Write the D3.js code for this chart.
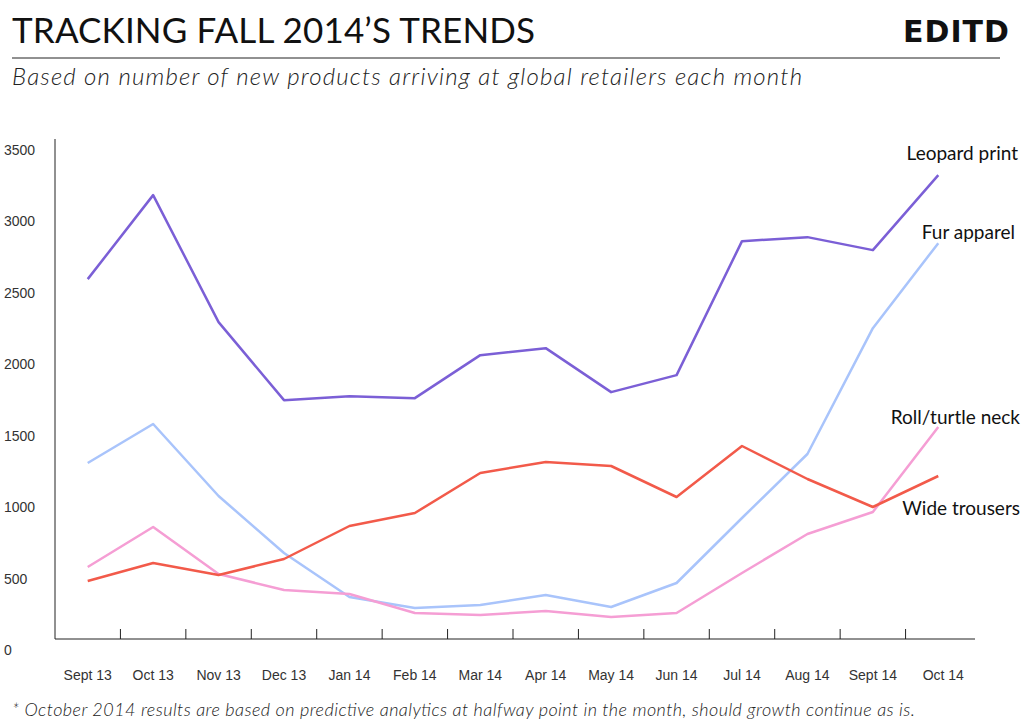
<!DOCTYPE html>
<html><head><meta charset="utf-8">
<script src="https://cdn.jsdelivr.net/npm/d3@7"></script>
<style>body{margin:0;background:#fff}svg{display:block}</style>
</head><body><svg width="1024" height="728"></svg>
<script>
const months = ["Sept 13","Oct 13","Nov 13","Dec 13","Jan 14","Feb 14","Mar 14","Apr 14","May 14","Jun 14","Jul 14","Aug 14","Sept 14","Oct 14"];
const leopard = [2519,3107,2218,1672,1700,1686,1987,2036,1728,1847,2785,2813,2722,3247];
const fur = [1232,1505,1001,602,294,217,238,308,224,392,847,1295,2176,2771];
const wide = [406,532,448,560,791,882,1162,1239,1211,994,1351,1120,924,1141];
const roll = [504,784,455,343,315,182,168,196,154,182,462,735,889,1484];
const yTicks = [0,500,1000,1500,2000,2500,3000,3500];

const series = [
  {name:"Leopard print", values:leopard, color:"#7b5fd6", lx:1018, ly:160},
  {name:"Fur apparel", values:fur, color:"#a9c4fb", lx:1015, ly:239},
  {name:"Roll/turtle neck", values:roll, color:"#f59ed4", lx:1020, ly:424},
  {name:"Wide trousers", values:wide, color:"#f25a4a", lx:1020, ly:515}
];

const svg = d3.select("svg");
const x = d3.scaleBand().domain(months).range([55, 971]);
const y = d3.scaleLinear().domain([0, 3500]).range([639, 139]);

svg.append("text").attr("x", 12).attr("y", 43).attr("font-family", "Lato").attr("font-weight", 400)
  .attr("font-size", 35).attr("fill", "#111").attr("textLength", 523).text("TRACKING FALL 2014’S TRENDS");
svg.append("text").attr("x", 1010).attr("y", 42).attr("text-anchor", "end").attr("font-family", "DejaVu Sans")
  .attr("font-weight", "bold").attr("font-size", 30).attr("letter-spacing", 1).attr("fill", "#111").text("EDITD");
svg.append("line").attr("x1", 12).attr("x2", 1000).attr("y1", 58).attr("y2", 58).attr("stroke", "#222");
svg.append("text").attr("x", 12).attr("y", 85).attr("font-family", "Lato").attr("font-style", "italic").attr("font-weight", 300)
  .attr("font-size", 24).attr("fill", "#222").attr("textLength", 790).text("Based on number of new products arriving at global retailers each month");
svg.append("text").attr("x", 12).attr("y", 716).attr("font-family", "Lato").attr("font-style", "italic").attr("font-weight", 300)
  .attr("font-size", 18).attr("fill", "#222").attr("textLength", 903).text("* October 2014 results are based on predictive analytics at halfway point in the month, should growth continue as is.");

// axes
svg.append("line").attr("x1", 55).attr("x2", 55).attr("y1", 139).attr("y2", 639).attr("stroke", "#222");
svg.append("line").attr("x1", 55).attr("x2", 975).attr("y1", 639).attr("y2", 639).attr("stroke", "#222");
svg.selectAll(".xt").data(months.slice(1)).join("line")
  .attr("x1", d => x(d)).attr("x2", d => x(d)).attr("y1", 629).attr("y2", 639).attr("stroke", "#222");
svg.selectAll(".xl").data(months).join("text")
  .attr("x", d => x(d) + x.bandwidth() / 2 + (d === "Oct 14" ? 5 : 0)).attr("y", 680).attr("text-anchor", "middle")
  .attr("font-family", "Liberation Sans").attr("font-size", 14).attr("fill", "#333").text(d => d);
svg.selectAll(".yl").data(yTicks).join("text")
  .attr("x", 4).attr("y", d => y(d) + 16).attr("font-family", "Liberation Sans")
  .attr("font-size", 14).attr("fill", "#333").text(d => d);

const line = d3.line().x((d, i) => x(months[i]) + x.bandwidth() / 2).y(d => y(d));
series.forEach(s => {
  svg.append("path").attr("d", line(s.values)).attr("fill", "none")
    .attr("stroke", s.color).attr("stroke-width", 2.5).attr("stroke-linejoin", "round");
  svg.append("text").attr("x", s.lx).attr("y", s.ly).attr("text-anchor", "end")
    .attr("font-family", "Lato").attr("font-size", 19).attr("fill", "#111").text(s.name);
});
</script></body></html>
